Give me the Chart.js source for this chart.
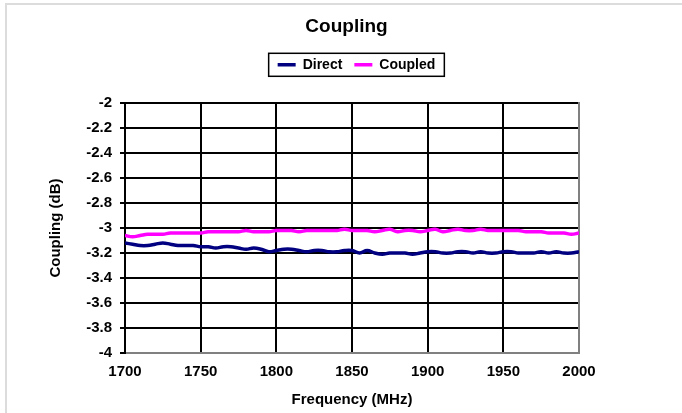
<!DOCTYPE html>
<html>
<head>
<meta charset="utf-8">
<script src="https://cdn.jsdelivr.net/npm/chart.js@4.4.1/dist/chart.umd.min.js"></script>
<style>
  html, body { margin: 0; padding: 0; background: #fff; }
  #wrap { position: relative; width: 682px; height: 413px; overflow: hidden; }
  #frame { position: absolute; left: 5px; top: 3px; width: 720px; height: 440px; border: 2px solid #dcdcdc; }
  canvas { position: absolute; left: 0; top: 0; }
</style>
</head>
<body>
<div id="wrap">
  <div id="frame"></div>
  <canvas id="chart" width="682" height="413"></canvas>
</div>
<script>
// Frequency in MHz
const FREQ = [
  1700, 1705, 1710, 1715, 1720, 1725, 1730, 1735, 1740, 1745,
  1750, 1755, 1760, 1765, 1770, 1775, 1780, 1785, 1790, 1795,
  1800, 1805, 1810, 1815, 1820, 1825, 1830, 1835, 1840, 1845,
  1850, 1855, 1860, 1865, 1870, 1875, 1880, 1885, 1890, 1895,
  1900, 1905, 1910, 1915, 1920, 1925, 1930, 1935, 1940, 1945,
  1950, 1955, 1960, 1965, 1970, 1975, 1980, 1985, 1990, 1995,
  2000
];

// Coupling (dB)
const DIRECT = [
  -3.12, -3.13, -3.14, -3.14, -3.13, -3.12, -3.13, -3.14, -3.14, -3.14,
  -3.15, -3.15, -3.16, -3.15, -3.15, -3.16, -3.17, -3.16, -3.17, -3.19,
  -3.18, -3.17, -3.17, -3.18, -3.19, -3.18, -3.18, -3.19, -3.19, -3.18,
  -3.18, -3.20, -3.18, -3.20, -3.21, -3.20, -3.20, -3.20, -3.21, -3.20,
  -3.19, -3.19, -3.20, -3.20, -3.19, -3.19, -3.20, -3.19, -3.20, -3.20,
  -3.19, -3.19, -3.20, -3.20, -3.20, -3.19, -3.20, -3.19, -3.20, -3.20,
  -3.19
];

const COUPLED = [
  -3.06, -3.07, -3.06, -3.05, -3.05, -3.05, -3.04, -3.04, -3.04, -3.04,
  -3.04, -3.03, -3.03, -3.03, -3.03, -3.03, -3.02, -3.03, -3.03, -3.03,
  -3.02, -3.02, -3.02, -3.03, -3.02, -3.02, -3.02, -3.02, -3.02, -3.01,
  -3.02, -3.02, -3.02, -3.03, -3.02, -3.01, -3.03, -3.02, -3.02, -3.03,
  -3.02, -3.01, -3.03, -3.02, -3.01, -3.02, -3.02, -3.01, -3.02, -3.02,
  -3.02, -3.02, -3.02, -3.03, -3.03, -3.03, -3.04, -3.04, -3.04, -3.05,
  -3.04
];

const X_TICKS = [1700, 1750, 1800, 1850, 1900, 1950, 2000];
const Y_TICKS = [-4, -3.8, -3.6, -3.4, -3.2, -3, -2.8, -2.6, -2.4, -2.2, -2];

const LEGEND_SHIFT = 10;

Chart.defaults.font.family = 'Arial, "Liberation Sans", Helvetica, sans-serif';
Chart.defaults.color = '#000';

const near = (a, b) => Math.abs(a - b) < 1e-6;

// nudges the legend right and draws the box round it
const legendFrame = {
  id: 'legendFrame',
  afterLayout(chart) {
    chart.legend.left += LEGEND_SHIFT;
    chart.legend.right += LEGEND_SHIFT;
  },
  afterDraw(chart) {
    const boxes = chart.legend.legendHitBoxes;
    if (!boxes || !boxes.length) return;
    const first = boxes[0];
    const last = boxes[boxes.length - 1];
    const cy = first.top + first.height / 2;
    const ctx = chart.ctx;
    ctx.save();
    ctx.strokeStyle = '#000';
    ctx.lineWidth = 1.5;
    ctx.strokeRect(first.left - 9, cy - 11.5, last.left + last.width - first.left + 18, 23);
    ctx.restore();
  }
};

const ctx = document.getElementById('chart').getContext('2d');
new Chart(ctx, {
  type: 'line',
  data: {
    datasets: [
      {
        label: 'Direct',
        data: FREQ.map((f, i) => ({ x: f, y: DIRECT[i] })),
        borderColor: '#000080',
        backgroundColor: '#000080',
        borderWidth: 3.5,
        pointRadius: 0,
        tension: 0.4,
        fill: false,
      },
      {
        label: 'Coupled',
        data: FREQ.map((f, i) => ({ x: f, y: COUPLED[i] })),
        borderColor: '#FF00FF',
        backgroundColor: '#FF00FF',
        borderWidth: 3.5,
        pointRadius: 0,
        tension: 0.4,
        fill: false,
      },
    ],
  },
  options: {
    responsive: false,
    animation: false,
    events: [],
    layout: { padding: { left: 11, right: 0, top: 0, bottom: 0 } },
    plugins: {
      title: {
        display: true,
        text: 'Coupling',
        color: '#000',
        font: { size: 19, weight: 'bold' },
        padding: { top: 15, bottom: 8 },
      },
      legend: {
        display: true,
        position: 'top',
        labels: {
          usePointStyle: true,
          pointStyle: 'line',
          pointStyleWidth: 18,
          color: '#000',
          font: { size: 14, weight: 'bold' },
          padding: 12,
        },
      },
      tooltip: { enabled: false },
    },
    scales: {
      x: {
        type: 'linear',
        position: 'bottom',
        min: 1700,
        max: 2000,
        afterBuildTicks: s => { s.ticks = X_TICKS.map(v => ({ value: v })); },
        afterFit: s => { s.height = 60; },
        ticks: {
          color: '#000',
          font: { size: 15, weight: 'bold' },
          padding: 10,
          maxRotation: 0,
          autoSkip: false,
          callback: v => String(v),
        },
        grid: {
          color: c => (c.tick && near(c.tick.value, 2000)) ? 'rgba(0,0,0,0)' : '#000',
          lineWidth: 2,
          drawTicks: false,
        },
        border: { color: '#808080', width: 2 },
        title: {
          display: true,
          text: 'Frequency (MHz)',
          color: '#000',
          font: { size: 15, weight: 'bold' },
          padding: { top: 0, bottom: 4 },
        },
      },
      x2: {
        type: 'linear',
        position: 'top',
        min: 1700,
        max: 2000,
        afterFit: s => { s.height = 21.2; },
        ticks: { display: false },
        grid: { display: false },
        border: { display: false },
      },
      y: {
        position: 'left',
        min: -4,
        max: -2,
        afterBuildTicks: s => { s.ticks = Y_TICKS.map(v => ({ value: v })); },
        afterFit: s => { s.width = 114; },
        ticks: {
          color: '#000',
          font: { size: 15, weight: 'bold' },
          padding: 8,
          callback: v => String(Math.round(v * 10) / 10),
        },
        grid: {
          color: c => (c.tick && near(c.tick.value, -4)) ? 'rgba(0,0,0,0)' : '#000',
          tickColor: '#000',
          lineWidth: 2,
          tickLength: 5,
          tickWidth: 2,
        },
        border: { color: '#000', width: 2 },
        title: {
          display: true,
          text: 'Coupling (dB)',
          color: '#000',
          font: { size: 15, weight: 'bold' },
          padding: { top: 36, bottom: 0 },
        },
      },
      y2: {
        position: 'right',
        min: -4,
        max: -2,
        afterFit: s => { s.width = 103; },
        ticks: { display: false },
        grid: { drawOnChartArea: false, drawTicks: false },
        border: { color: '#808080', width: 2 },
      },
    },
  },
  plugins: [legendFrame],
});
</script>
</body>
</html>
